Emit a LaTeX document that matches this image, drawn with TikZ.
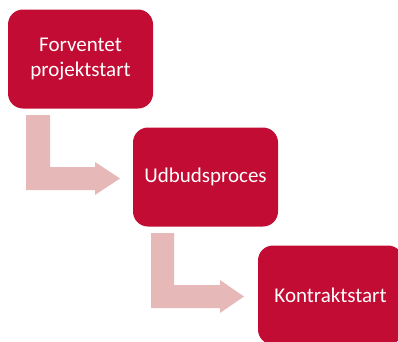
\documentclass[tikz,border=0pt]{standalone}
\usepackage{fontspec}
\setmainfont{Carlito}
\definecolor{boxred}{HTML}{C20C34}
\definecolor{arrowpink}{HTML}{E6B9B8}
\begin{document}
\begin{tikzpicture}[x=1pt,y=-1pt,
  stepbox/.style={fill=boxred, draw=none, rounded corners=15pt, minimum width=145pt, minimum height=99pt, text=white, font=\fontsize{21}{25}\selectfont, align=center, inner sep=0pt},
  bentarrow/.style={fill=arrowpink, draw=none}]
\useasboundingbox (0,0) rectangle (398,341);
\clip (0,0) rectangle (398,341);
\node[stepbox] (a) at (80.5,59) {Forventet\\projektstart};
\node[stepbox] (b) at (205.5,177) {Udbudsproces};
\node[stepbox] (c) at (330.5,295) {Kontraktstart};
\fill[bentarrow] (26,115) -- (50,115) -- (50,167) -- (95,167) -- (95,162) -- (120,178.5) -- (95,195) -- (95,190) -- (26,190) -- cycle;
\fill[bentarrow] (151,233) -- (174,233) -- (174,285) -- (220,285) -- (220,280) -- (244,296.5) -- (220,313) -- (220,308) -- (151,308) -- cycle;
\end{tikzpicture}
\end{document}
